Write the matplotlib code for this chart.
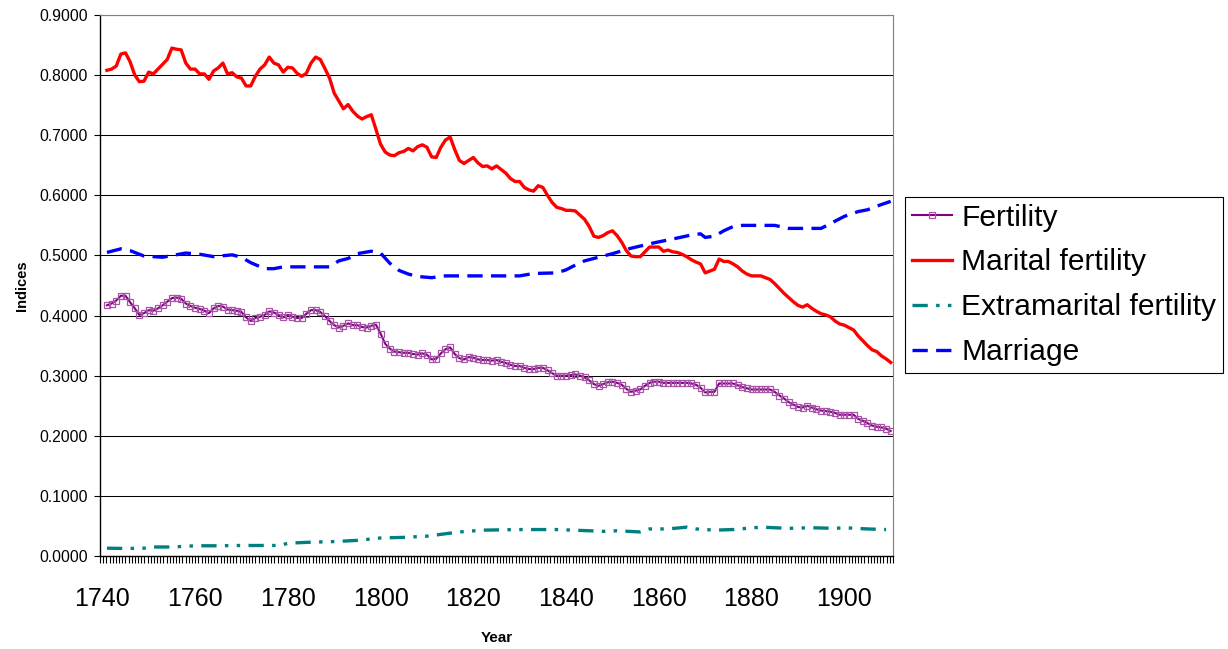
import numpy as np
import matplotlib.pyplot as plt
from matplotlib.ticker import FixedLocator

plt.rcParams['font.family'] = ['Liberation Sans', 'DejaVu Sans']
plt.rcParams['lines.scale_dashes'] = False

# yearly series 1741-1910
years = np.arange(1741, 1911)

marital = [
    0.808, 0.810, 0.815, 0.835, 0.837, 0.822, 0.800, 0.789, 0.790, 0.805,  # 1741-1750
    0.802, 0.810, 0.818, 0.826, 0.845, 0.843, 0.842, 0.820, 0.810, 0.810,  # 1751-1760
    0.802, 0.802, 0.793, 0.807, 0.812, 0.820, 0.802, 0.804, 0.797, 0.795,  # 1761-1770
    0.782, 0.782, 0.798, 0.810, 0.817, 0.830, 0.820, 0.817, 0.805, 0.813,  # 1771-1780
    0.812, 0.803, 0.798, 0.803, 0.820, 0.830, 0.826, 0.811, 0.795, 0.770,  # 1781-1790
    0.757, 0.744, 0.751, 0.740, 0.732, 0.727, 0.731, 0.734, 0.710, 0.685,  # 1791-1800
    0.672, 0.667, 0.666, 0.671, 0.673, 0.678, 0.674, 0.681, 0.684, 0.680,  # 1801-1810
    0.664, 0.663, 0.680, 0.692, 0.697, 0.676, 0.658, 0.653, 0.658, 0.663,  # 1811-1820
    0.654, 0.648, 0.649, 0.644, 0.649, 0.643, 0.637, 0.628, 0.623, 0.623,  # 1821-1830
    0.613, 0.609, 0.607, 0.616, 0.613, 0.600, 0.588, 0.580, 0.578, 0.575,  # 1831-1840
    0.575, 0.574, 0.567, 0.560, 0.548, 0.532, 0.530, 0.533, 0.538, 0.541,  # 1841-1850
    0.533, 0.522, 0.508, 0.499, 0.498, 0.498, 0.506, 0.514, 0.514, 0.514,  # 1851-1860
    0.507, 0.509, 0.506, 0.505, 0.502, 0.498, 0.493, 0.489, 0.486, 0.471,  # 1861-1870
    0.474, 0.477, 0.494, 0.490, 0.490, 0.486, 0.481, 0.474, 0.469, 0.466,  # 1871-1880
    0.466, 0.466, 0.463, 0.460, 0.453, 0.445, 0.437, 0.430, 0.423, 0.417,  # 1881-1890
    0.414, 0.418, 0.412, 0.407, 0.403, 0.401, 0.398, 0.391, 0.386, 0.384,  # 1891-1900
    0.380, 0.376, 0.366, 0.358, 0.350, 0.343, 0.340, 0.333, 0.328, 0.322,  # 1901-1910
]

fertility = [
    0.417, 0.420, 0.425, 0.433, 0.433, 0.422, 0.412, 0.401, 0.404, 0.409,  # 1741-1750
    0.408, 0.412, 0.417, 0.423, 0.429, 0.430, 0.428, 0.420, 0.416, 0.413,  # 1751-1760
    0.411, 0.408, 0.404, 0.412, 0.416, 0.415, 0.410, 0.409, 0.408, 0.406,  # 1761-1770
    0.397, 0.391, 0.396, 0.398, 0.401, 0.407, 0.405, 0.401, 0.397, 0.401,  # 1771-1780
    0.398, 0.396, 0.396, 0.403, 0.409, 0.409, 0.406, 0.399, 0.391, 0.384,  # 1781-1790
    0.380, 0.383, 0.387, 0.384, 0.384, 0.381, 0.380, 0.383, 0.385, 0.370,  # 1791-1800
    0.353, 0.345, 0.340, 0.339, 0.338, 0.338, 0.336, 0.335, 0.337, 0.335,  # 1801-1810
    0.327, 0.328, 0.337, 0.344, 0.347, 0.336, 0.329, 0.327, 0.331, 0.330,  # 1811-1820
    0.327, 0.326, 0.326, 0.325, 0.326, 0.323, 0.321, 0.318, 0.316, 0.316,  # 1821-1830
    0.313, 0.311, 0.311, 0.313, 0.313, 0.309, 0.304, 0.300, 0.300, 0.300,  # 1831-1840
    0.301, 0.302, 0.300, 0.297, 0.292, 0.286, 0.283, 0.286, 0.289, 0.290,  # 1841-1850
    0.288, 0.285, 0.278, 0.273, 0.275, 0.277, 0.283, 0.288, 0.290, 0.290,  # 1851-1860
    0.288, 0.288, 0.288, 0.288, 0.288, 0.288, 0.287, 0.285, 0.280, 0.272,  # 1861-1870
    0.273, 0.273, 0.287, 0.287, 0.287, 0.287, 0.284, 0.281, 0.279, 0.277,  # 1871-1880
    0.277, 0.277, 0.277, 0.277, 0.273, 0.267, 0.262, 0.256, 0.252, 0.248,  # 1881-1890
    0.247, 0.250, 0.247, 0.244, 0.242, 0.241, 0.240, 0.238, 0.235, 0.235,  # 1891-1900
    0.235, 0.235, 0.228, 0.225, 0.221, 0.217, 0.215, 0.214, 0.212, 0.208,  # 1901-1910
]

marriage_years = [1741, 1744, 1746, 1749, 1753, 1758, 1761, 1764, 1768, 1770,
                  1772, 1775, 1777, 1779, 1789, 1791, 1793, 1795, 1798, 1800,
                  1802, 1804, 1806, 1808, 1811, 1814, 1818, 1830, 1833, 1838,
                  1840, 1842, 1844, 1847, 1850, 1854, 1859, 1864, 1867, 1869,
                  1870, 1872, 1874, 1876, 1878, 1885, 1888, 1895, 1897, 1900,
                  1903, 1905, 1907, 1910]
marriage = [0.505, 0.511, 0.508, 0.499, 0.497, 0.504, 0.502, 0.498, 0.501, 0.497,
            0.488, 0.478, 0.478, 0.481, 0.481, 0.491, 0.495, 0.503, 0.507, 0.504,
            0.487, 0.475, 0.469, 0.465, 0.463, 0.466, 0.466, 0.466, 0.470, 0.471,
            0.476, 0.484, 0.491, 0.497, 0.503, 0.512, 0.521, 0.529, 0.534, 0.536,
            0.530, 0.532, 0.541, 0.548, 0.550, 0.550, 0.545, 0.545, 0.553, 0.565,
            0.573, 0.576, 0.582, 0.590]

extra_years = [1741, 1745, 1749, 1751, 1755, 1760, 1765, 1770, 1778, 1780,
               1782, 1785, 1790, 1795, 1800, 1805, 1810, 1813, 1817, 1822,
               1830, 1838, 1845, 1848, 1851, 1856, 1858, 1862, 1866, 1868,
               1872, 1876, 1882, 1885, 1888, 1893, 1898, 1900, 1905, 1909]
extramarital = [0.013, 0.0125, 0.013, 0.015, 0.015, 0.017, 0.017, 0.0175, 0.0175, 0.021,
                0.022, 0.023, 0.024, 0.026, 0.030, 0.031, 0.033, 0.036, 0.040, 0.043,
                0.044, 0.044, 0.042, 0.041, 0.042, 0.040, 0.045, 0.045, 0.048, 0.045,
                0.043, 0.044, 0.048, 0.047, 0.046, 0.047, 0.046, 0.047, 0.045, 0.044]

label_years = [1740, 1760, 1780, 1800, 1820, 1840, 1860, 1880, 1900]

fig = plt.figure(figsize=(12.28, 6.49), dpi=100)
ax = fig.add_axes([100 / 1228, 93 / 649, 793 / 1228, 541 / 649])

ax.plot(years, fertility, color='#800080', lw=1.5, marker='s', markersize=4.5,
        markerfacecolor='none', markeredgecolor='#a855a8', markeredgewidth=0.9,
        label='Fertility', zorder=3)
ax.plot(years, marital, color='#ff0000', lw=2.4, label='Marital fertility', zorder=3)
ax.plot(extra_years, extramarital, color='#008080', lw=2.4,
        linestyle=(0, (11, 6, 2.5, 6, 2.5, 6)), label='Extramarital fertility', zorder=3)
ax.plot(marriage_years, marriage, color='#0000ff', lw=2.4,
        linestyle=(0, (11, 6)), label='Marriage', zorder=3)

ax.set_xlim(1739.5, 1910.5)
ax.set_ylim(0, 0.9)
ax.set_yticks(np.arange(0, 0.91, 0.1))
ax.set_yticklabels(['%.4f' % v for v in np.arange(0, 0.91, 0.1)], fontsize=11.3)
ax.yaxis.grid(True, color='black', lw=0.75)
ax.set_axisbelow(True)

ax.set_xticks(label_years)
ax.set_xticklabels([str(y) for y in label_years], fontsize=18)
ax.xaxis.set_minor_locator(FixedLocator(np.linspace(1739.5, 1910.5, 251)))
ax.tick_params(axis='x', which='major', length=0, pad=22)
ax.tick_params(axis='x', which='minor', length=5, width=0.8, color='black')
ax.tick_params(axis='y', length=4, width=0.8, pad=5)

ax.spines['top'].set_color('#808080')
ax.spines['right'].set_color('#808080')
ax.spines['left'].set_linewidth(1.0)
ax.spines['bottom'].set_linewidth(1.0)

ax.set_xlabel('Year', fontsize=11, fontweight='bold', labelpad=15)
ax.set_ylabel('Indices', fontsize=10.5, fontweight='bold', labelpad=7)

leg = ax.legend(loc='upper left', bbox_to_anchor=(905 / 1228, 452 / 649),
                bbox_transform=fig.transFigure, borderaxespad=0, fontsize=21.6,
                frameon=True, fancybox=False, edgecolor='black', framealpha=1,
                handlelength=1.35, handletextpad=0.3, borderpad=0.22,
                labelspacing=0.56)
leg.get_frame().set_linewidth(0.8)

fig.savefig('out.png', dpi=100)
